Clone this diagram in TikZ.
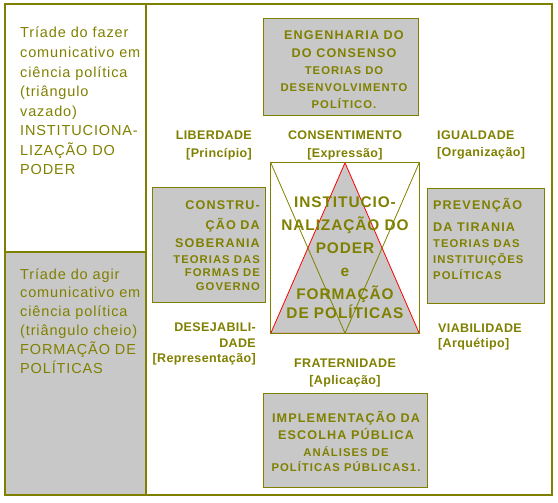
\documentclass[tikz,border=0pt]{standalone}
\usepackage{fontspec}
\setmainfont{Liberation Sans}
\newfontfamily\sidefont[LetterSpace=6]{Liberation Sans}
\newfontfamily\labelfont[LetterSpace=3]{Liberation Sans}
\newfontfamily\boxfont[LetterSpace=9]{Liberation Sans}
\usepackage{xcolor}
\usepackage{tikz}
\usetikzlibrary{
  positioning
}
\definecolor{TriadeOlive}{HTML}{808000}
\definecolor{TriadeGray}{HTML}{C8C8C8}
\definecolor{TriadeRed}{HTML}{FF0000}
\newcommand{\subline}[1]{{\fontsize{11.3}{13}\selectfont #1}}

\begin{document}
\begin{tikzpicture}[
    x=1pt, y=-1pt,
    every node/.style={text=TriadeOlive,inner sep=0pt},
    greybox/.style={draw=TriadeOlive,fill=TriadeGray,line width=0.9pt},
    sidetext/.style={font=\fontsize{14.5}{19.6}\selectfont\sidefont,align=left,anchor=base west},
    labeltext/.style={font=\fontsize{12.5}{17}\selectfont\labelfont\bfseries},
    boxtext/.style={font=\fontsize{12.6}{17.3}\selectfont\boxfont\bfseries},
    centretext/.style={font=\fontsize{15.4}{23}\selectfont\sidefont\bfseries,align=center,anchor=base}
  ]
    \useasboundingbox (0,0) rectangle (558,503);
    % left column
    \fill[TriadeGray] (5,252) rectangle (146,495);
    \draw[TriadeOlive,line width=2pt] (5,252) -- (146,252);
    \draw[TriadeOlive,line width=2pt] (146,4) -- (146,495);
    % outer frame
    \draw[TriadeOlive,line width=2.5pt] (5,4) rectangle (552,495);
    % (base anchor = last line of a node)
    \node[sidetext] (fazer) at (20,175) {Tríade do fazer\\comunicativo em\\ciência política\\(triângulo\\vazado)\\INSTITUCIONA-\\LIZAÇÃO DO\\PODER};
    \node[sidetext,font=\fontsize{14.5}{18.8}\selectfont\sidefont] (agir) at (20,373) {Tríade do agir\\comunicativo em\\ciência política\\(triângulo cheio)\\FORMAÇÃO DE\\POLÍTICAS};

    % grey boxes
    \node[greybox,minimum width=155pt,minimum height=97pt] (engenharia) at (340.5,66.5) {};
    \node[greybox,minimum width=113pt,minimum height=115pt] (soberania) at (208.5,244.5) {};
    \node[greybox,minimum width=117pt,minimum height=115pt] (tirania) at (485.5,245.5) {};
    \node[greybox,minimum width=164pt,minimum height=94pt] (escolha) at (345,440) {};
    \node[boxtext,align=center,anchor=base] (engenharia-txt) at (344,109)
      {ENGENHARIA DO\\DO CONSENSO\\\subline{TEORIAS DO}\\\subline{DESENVOLVIMENTO}\\\subline{POLÍTICO.}};
    \node[boxtext,align=right,anchor=base east,font=\fontsize{12.6}{13.5}\selectfont\boxfont\bfseries] (soberania-txt) at (260,290.5)
      {CONSTRU-\\[6pt]ÇÃO DA\\[4.5pt]SOBERANIA\\[3pt]\subline{TEORIAS DAS}\\\subline{FORMAS DE}\\\subline{GOVERNO}};
    \node[boxtext,align=left,anchor=base west,font=\fontsize{12.6}{16}\selectfont\boxfont\bfseries] (tirania-txt) at (433,279)
      {PREVENÇÃO\\[6pt]DA TIRANIA\\\subline{TEORIAS DAS}\\\subline{INSTITUIÇÕES}\\\subline{POLÍTICAS}};
    \node[boxtext,align=center,anchor=base] (escolha-txt) at (346,471)
      {IMPLEMENTAÇÃO DA\\ESCOLHA PÚBLICA\\\subline{ANÁLISES DE}\\[-3pt]\subline{POLÍTICAS PÚBLICAS1.}};

    % central triad
    \node[minimum width=148pt,minimum height=170pt] (poder) at (345,248) {};
    \filldraw[draw=TriadeRed,fill=TriadeGray,line width=0.8pt]
      (poder.north) -- (poder.south west) -- (poder.south east) -- cycle;
    \draw[TriadeOlive,line width=0.8pt] (poder.north west) -- (poder.south) -- (poder.north east);
    \draw[TriadeOlive,line width=0.9pt] (poder.north west) rectangle (poder.south east);
    \node[centretext] (poder-txt) at (345,318.5)
      {INSTITUCIO-\\NALIZAÇÃO DO\\PODER\\e\\FORMAÇÃO\\[-4pt]DE POLÍTICAS};

    % values round the triad
    \node[labeltext,align=right,anchor=base east,font=\fontsize{12.5}{18}\selectfont\labelfont\bfseries] (liberdade) at (252,157.5) {LIBERDADE\\{[Princípio]}};
    \node[labeltext,align=center,anchor=base,font=\fontsize{12.5}{18}\selectfont\labelfont\bfseries] (consentimento) at (345,157.5) {CONSENTIMENTO\\{[Expressão]}};
    \node[labeltext,align=left,anchor=base west] (igualdade) at (437,156.5) {IGUALDADE\\{[Organização]}};
    \node[labeltext,align=right,anchor=base east,font=\fontsize{12.5}{15.5}\selectfont\labelfont\bfseries] (desejabilidade) at (256,362.5) {DESEJABILI-\\DADE\\{[Representação]}};
    \node[labeltext,align=center,anchor=base] (fraternidade) at (345,384.5) {FRATERNIDADE\\{[Aplicação]}};
    \node[labeltext,align=left,anchor=base west,font=\fontsize{12.5}{15.5}\selectfont\labelfont\bfseries] (viabilidade) at (438,347.5) {VIABILIDADE\\{[Arquétipo]}};
  \end{tikzpicture}
\end{document}
